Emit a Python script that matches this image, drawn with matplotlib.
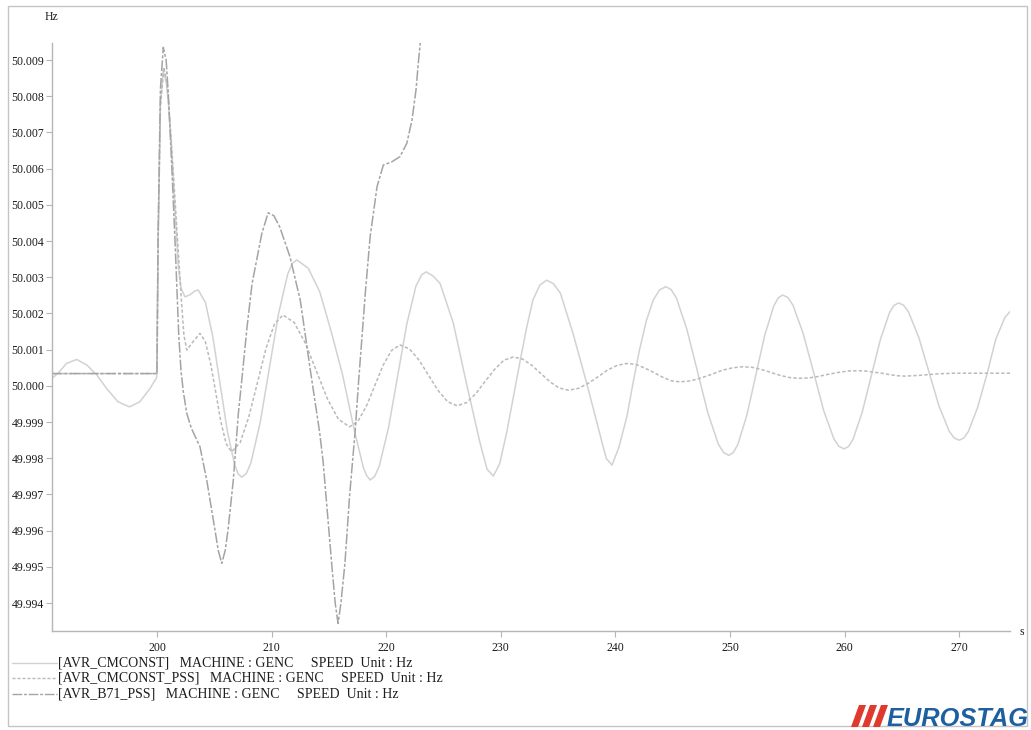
import matplotlib
matplotlib.use("Agg")
import matplotlib.pyplot as plt
from matplotlib.patches import Rectangle, Polygon
from matplotlib.lines import Line2D
from matplotlib.ticker import FixedLocator, FormatStrFormatter

# ---------------- data ----------------
t_cmconst = [190.84, 191.4, 192.1, 193.0, 193.9, 194.75, 195.6, 196.6, 197.6, 198.5, 199.4, 199.97,
             200.1, 200.3, 200.55, 200.8, 201.0, 201.3, 201.6, 201.86, 202.1, 202.44, 202.9, 203.3, 203.6,
             204.23, 204.87, 205.5, 206.13, 206.77, 207.08, 207.4,
             207.8, 208.2, 209.0, 209.8, 210.6, 211.4, 211.8, 212.2,
             213.2, 214.2, 215.2, 216.2, 217.2, 218.0, 218.3, 218.6,
             219.0, 219.4, 220.2, 221.0, 221.8, 222.6, 223.1, 223.5,
             224.1, 224.7, 225.86, 227.0, 228.2, 228.8, 229.35,
             229.9, 230.5, 231.1, 231.7, 232.25, 232.8, 233.4, 234.0,
             234.6, 235.2, 236.3, 237.5, 238.7, 239.2, 239.7,
             240.3, 241.0, 241.55, 242.1, 242.7, 243.3, 243.85, 244.4,
             244.86, 245.32, 246.23, 247.15, 248.07, 248.98, 249.44, 249.9,
             250.29, 250.68, 251.47, 252.25, 253.03, 253.82, 254.21, 254.6,
             255.05, 255.49, 256.38, 257.28, 258.17, 259.06, 259.5, 259.95,
             260.35, 260.74, 261.53, 262.33, 263.12, 263.91, 264.3, 264.7,
             265.14, 265.58, 266.47, 267.35, 268.23, 269.12, 269.56, 270.0,
             270.4, 270.8, 271.6, 272.4, 273.2, 274.0, 274.43]
v_cmconst = [50.00021, 50.00036, 50.00062, 50.00073, 50.00057, 50.0003, 49.99993, 49.99956, 49.99942, 49.99956, 49.99993, 50.00023,
             50.0040, 50.0078, 50.0087, 50.0084, 50.0078, 50.0064, 50.0047, 50.0033, 50.0027, 50.00246, 50.00252, 50.00262, 50.00265,
             50.0023, 50.00136, 50.00007, 49.99877, 49.99783, 49.99757, 49.99748,
             49.99758, 49.99788, 49.99898, 50.00048, 50.00198, 50.00308, 50.00338, 50.00348,
             50.00325, 50.0026, 50.0015, 50.0003, 49.9988, 49.99775, 49.99752, 49.9974,
             49.9975, 49.99779, 49.99884, 50.00028, 50.00171, 50.00276, 50.00307, 50.00315,
             50.00303, 50.00283, 50.00173, 50.00007, 49.99841, 49.9977, 49.99751,
             49.99785, 49.99869, 49.9997, 50.00071, 50.0016, 50.00237, 50.00278, 50.00292,
             50.00282, 50.00256, 50.00145, 50.00007, 49.9986, 49.9980, 49.99781,
             49.9983, 49.99915, 50.0001, 50.00099, 50.0018, 50.00237, 50.00265, 50.00274,
             50.00266, 50.00243, 50.00157, 50.00041, 49.99925, 49.99839, 49.99816, 49.99808,
             49.99816, 49.99838, 49.99919, 50.0003, 50.0014, 50.00221, 50.00243, 50.00251,
             50.00244, 50.00223, 50.00145, 50.00039, 49.99932, 49.99854, 49.99833, 49.99826,
             49.99833, 49.99853, 49.99927, 50.00028, 50.00128, 50.00202, 50.00222, 50.00229,
             50.00223, 50.00204, 50.00134, 50.0004, 49.99945, 49.99875, 49.99856, 49.9985,
             49.99856, 49.99874, 49.9994, 50.0003, 50.0013, 50.0019, 50.00205]

t_cmconst_pss = [190.84, 200.0, 200.1, 200.3, 200.6, 200.9, 201.2, 201.5, 201.8, 202.1, 202.35, 202.6, 203.1, 203.75,
                 204.21, 204.67, 205.13, 205.58, 206.04, 206.5,
                 207.25, 208.0, 208.75, 209.5, 210.25, 211.0,
                 211.97, 212.93, 213.9, 214.87, 215.83, 216.8,
                 217.53, 218.27, 219.0, 219.73, 220.47, 221.2,
                 222.03, 222.87, 223.7, 224.53, 225.37, 226.2,
                 227.02, 227.83, 228.65, 229.47, 230.28, 231.1,
                 231.9, 232.7, 233.5, 234.3, 235.1, 235.9,
                 236.76, 237.62, 238.48, 239.33, 240.19, 241.05,
                 241.82, 242.58, 243.35, 244.12, 244.88, 245.65,
                 246.57, 247.48, 248.4, 249.32, 250.23, 251.15,
                 251.96, 252.77, 253.58, 254.38, 255.19, 256.0,
                 256.86, 257.72, 258.58, 259.43, 260.29, 261.15,
                 261.84, 262.53, 263.23, 263.92, 264.61, 265.3,
                 266.5, 268.0, 269.5, 271.5, 274.43]
v_cmconst_pss = [50.00034, 50.00034, 50.0040, 50.0077, 50.0088, 50.0083, 50.0070, 50.0055, 50.0040, 50.0025, 50.0014, 50.00099, 50.0012, 50.00145,
                 50.00123, 50.00063, 49.99982, 49.999, 49.9984, 49.99818,
                 49.99843, 49.99913, 50.00007, 50.00102, 50.00171, 50.00196,
                 50.00175, 50.00119, 50.00042, 49.99964, 49.99908, 49.99887,
                 49.99902, 49.99944, 50.0, 50.00057, 50.00098, 50.00113,
                 50.00102, 50.00071, 50.00029, 49.99987, 49.99956, 49.99945,
                 49.99954, 49.99979, 50.00013, 50.00046, 50.00071, 50.0008,
                 50.00074, 50.00057, 50.00034, 50.00011, 49.99994, 49.99988,
                 49.99993, 50.00007, 50.00025, 50.00044, 50.00057, 50.00062,
                 50.00059, 50.00049, 50.00037, 50.00024, 50.00014, 50.00011,
                 50.00014, 50.00022, 50.00032, 50.00043, 50.0005, 50.00053,
                 50.00051, 50.00045, 50.00037, 50.00029, 50.00023, 50.00021,
                 50.00022, 50.00026, 50.00032, 50.00037, 50.00041, 50.00042,
                 50.00041, 50.00038, 50.00035, 50.00031, 50.00028, 50.00027,
                 50.00029, 50.00033, 50.00035, 50.00035, 50.00035]

t_b71_pss = [190.84, 200.0, 200.1, 200.3, 200.55, 200.8, 201.0, 201.3, 201.6, 201.9, 202.1, 202.3, 202.6, 203.0,
             203.75, 204.34, 205.06, 205.35, 205.65, 205.95, 206.2, 206.66, 207.1, 207.4, 207.85, 208.3,
             209.15, 209.7, 210.2, 210.7, 211.6, 212.5, 213.35, 214.2, 214.5, 215.24, 215.55, 215.8,
             216.05, 216.4, 216.8, 217.3, 217.6, 218.2, 218.6, 219.2, 219.75, 220.5, 221.2, 221.8,
             222.25, 222.6, 222.8, 222.97, 223.1]
v_b71_pss = [50.00034, 50.00034, 50.0042, 50.0082, 50.00935, 50.0090, 50.0080, 50.0060, 50.0038, 50.0014, 50.0004, 49.99984, 49.99924, 49.99883,
             49.99832, 49.9974, 49.99602, 49.99545, 49.9951, 49.99545, 49.99602, 49.9974, 49.99924, 50.00016, 50.0016, 50.00283,
             50.00421, 50.00478, 50.0047, 50.0044, 50.00357, 50.00237, 50.0005, 49.9987, 49.9979, 49.9951, 49.9940, 49.99344,
             49.9940, 49.9951, 49.99694, 49.99878, 50.00016, 50.00265, 50.00412, 50.0055, 50.0061, 50.00619, 50.00633, 50.0067,
             50.00734, 50.00817, 50.00891, 50.00946, 50.0100]

x_ticks = [200, 210, 220, 230, 240, 250, 260, 270]
y_ticks = [49.994, 49.995, 49.996, 49.997, 49.998, 49.999, 50.000, 50.001,
           50.002, 50.003, 50.004, 50.005, 50.006, 50.007, 50.008, 50.009]
legend_labels = ["[AVR_CMCONST]   MACHINE : GENC     SPEED  Unit : Hz",
                 "[AVR_CMCONST_PSS]   MACHINE : GENC     SPEED  Unit : Hz",
                 "[AVR_B71_PSS]   MACHINE : GENC     SPEED  Unit : Hz"]

# ---------------- figure ----------------
W, H = 1031, 730
fig = plt.figure(figsize=(W / 100, H / 100), dpi=100)
fig.patch.set_facecolor("white")

def fx(px):
    return px / W

def fy(py):
    return 1 - py / H

ax = fig.add_axes([fx(52), fy(631), fx(1010) - fx(52), fy(43) - fy(631)])
ax.set_xlim(190.84, 274.43)
ax.set_ylim(49.99323, 50.00947)

c_solid = "#d2d2d2"
c_dash = "#bababa"
c_dd = "#a4a4a4"
ls_dash = (0, (2.2, 1.4))
ls_dd = (0, (7, 1.3, 2, 1.3))

ax.plot(t_cmconst, v_cmconst, color=c_solid, lw=1.1, solid_joinstyle="round")
ax.plot(t_cmconst_pss, v_cmconst_pss, color=c_dash, lw=1.1, linestyle=ls_dash)
ax.plot(t_b71_pss, v_b71_pss, color=c_dd, lw=1.1, linestyle=ls_dd)

for s in ["top", "right"]:
    ax.spines[s].set_visible(False)
for s in ["left", "bottom"]:
    ax.spines[s].set_color("#b5b5b5")
    ax.spines[s].set_linewidth(1.0)

serif = ["Liberation Serif", "DejaVu Serif"]
ax.xaxis.set_major_locator(FixedLocator(x_ticks))
ax.yaxis.set_major_locator(FixedLocator(y_ticks))
ax.yaxis.set_major_formatter(FormatStrFormatter("%.3f"))
ax.tick_params(axis="both", direction="out", length=4, width=0.8, color="#b5b5b5",
               labelsize=8.5, labelcolor="#1a1a1a", pad=1.5)
ax.tick_params(axis="x", pad=4)
for lab in ax.get_xticklabels() + ax.get_yticklabels():
    lab.set_family(serif)

# axis unit labels
fig.text(fx(45), fy(17), "Hz", family=serif, fontsize=8.5, color="#1a1a1a", ha="left", va="center")
fig.text(fx(1020), fy(632), "s", family=serif, fontsize=8.5, color="#1a1a1a", ha="left", va="center")

# legend (custom, below plot)
leg_y = [663, 678, 694]
leg_styles = [dict(color=c_solid, linestyle="-"),
              dict(color=c_dash, linestyle=ls_dash),
              dict(color=c_dd, linestyle=ls_dd)]
for yy, lab, st in zip(leg_y, legend_labels, leg_styles):
    fig.add_artist(Line2D([fx(12), fx(57)], [fy(yy), fy(yy)], lw=1.0, transform=fig.transFigure, **st))
    fig.text(fx(58), fy(yy), lab, family=serif, fontsize=10, color="#1e1e1e", ha="left", va="center")

# outer frame
fig.add_artist(Rectangle((fx(8), fy(726)), fx(1027) - fx(8), fy(6) - fy(726), fill=False,
                         edgecolor="#c4c4c4", lw=1.0, transform=fig.transFigure))

# EUROSTAG logo
red = "#e0392e"
for x0 in [851, 862, 873]:
    pts = [(fx(x0), fy(727)), (fx(x0 + 7), fy(727)), (fx(x0 + 15), fy(705)), (fx(x0 + 8), fy(705))]
    fig.add_artist(Polygon(pts, closed=True, facecolor=red, edgecolor="none", transform=fig.transFigure))
fig.text(fx(887), fy(726), "EUROSTAG", family=["Liberation Sans", "DejaVu Sans"],
         fontweight="bold", fontstyle="italic", fontsize=18.3, color="#1d5f9f", ha="left", va="baseline")

fig.savefig("out.png", dpi=100, facecolor="white")
